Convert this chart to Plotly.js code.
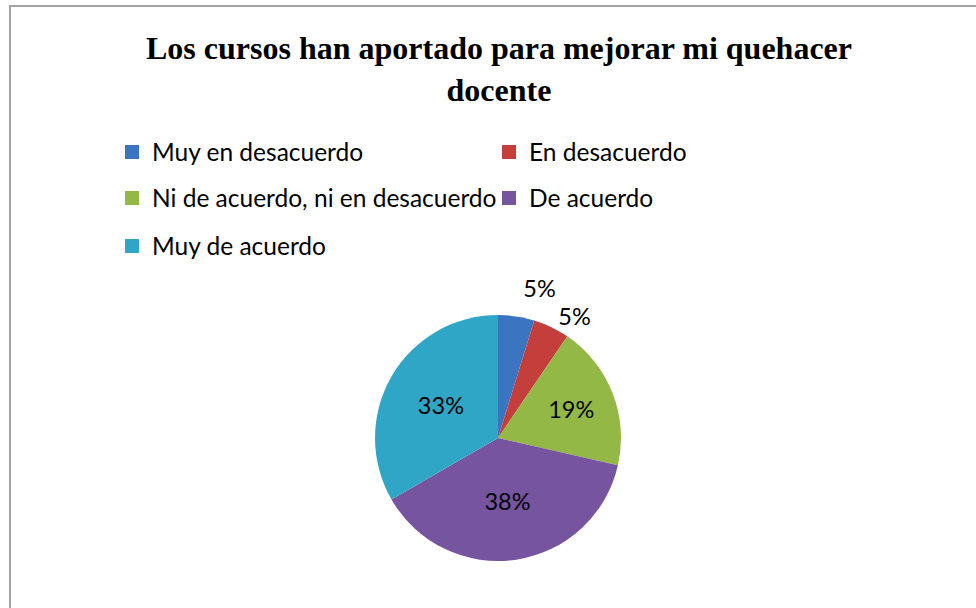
<!DOCTYPE html>
<html>
<head>
<meta charset="utf-8">
<script src="https://cdn.plot.ly/plotly-3.0.1.min.js"></script>
<style>html,body{margin:0;padding:0;background:#fff;overflow:hidden}#chart{width:976px;height:608px}path.textline{display:none}</style>
</head>
<body>
<div id="chart"></div>
<script>
// Data
const categories = ["Muy en desacuerdo", "En desacuerdo", "Ni de acuerdo, ni en desacuerdo", "De acuerdo", "Muy de acuerdo"];
const counts = [1, 1, 4, 8, 7];
const colors = ["#3b75c2", "#c43e3c", "#93b846", "#7654a0", "#30a6c6"];
const textPositions = ["outside", "outside", "inside", "inside", "inside"];
const titleText = "Los cursos han aportado para mejorar mi quehacer<br>docente";
// legend rows (indices into categories)
const legendRows = [[0, 1], [2, 3], [4]];
const legendNames = ["legend", "legend2", "legend3"];

const W = 976, H = 608;
const cx = 498, cy = 438, R = 123;

const traces = [{
  type: "pie",
  labels: categories,
  values: counts,
  sort: false,
  direction: "clockwise",
  rotation: 0,
  marker: {colors: colors, line: {width: 0}},
  textposition: textPositions,
  insidetextorientation: "horizontal",
  texttemplate: "%{percent:.0%}",
  textfont: {family: "Lato, 'Open Sans', sans-serif", size: 23.5, color: "#000"},
  showlegend: false,
  hoverinfo: "label+percent",
  domain: {x: [(cx - R) / W, (cx + R) / W], y: [(H - cy - R) / H, (H - cy + R) / H]}
}];

// legend entries as marker-only traces in three legend rows
legendRows.forEach((row, r) => {
  row.forEach(i => {
    traces.push({
      type: "scatter",
      mode: "markers",
      x: [null], y: [null],
      name: categories[i],
      marker: {symbol: "square", size: 14, color: colors[i]},
      legend: legendNames[r],
      showlegend: true,
      hoverinfo: "skip"
    });
  });
});

const legendBase = {
  orientation: "h",
  xanchor: "left",
  yanchor: "middle",
  x: 112 / W,
  entrywidth: 332,
  entrywidthmode: "pixels",
  font: {family: "Lato, 'Open Sans', sans-serif", size: 24.5, color: "#000"},
  bgcolor: "rgba(0,0,0,0)",
  itemclick: false,
  itemdoubleclick: false
};
const rowY = [152, 198, 246];

const layout = {
  width: W, height: H,
  margin: {l: 0, r: 0, t: 0, b: 0},
  paper_bgcolor: "#fff",
  plot_bgcolor: "rgba(0,0,0,0)",
  title: {
    text: "<b>" + titleText + "</b>",
    x: 499 / W, xanchor: "center",
    y: 1 - 59 / H, yanchor: "middle",
    yref: "paper",
    font: {family: "'Liberation Serif', 'Times New Roman', serif", size: 32, color: "#000"}
  },
  xaxis: {visible: false, domain: [0, 1]},
  yaxis: {visible: false, domain: [0, 1]},
  legend: Object.assign({}, legendBase, {y: 1 - rowY[0] / H}),
  legend2: Object.assign({}, legendBase, {y: 1 - rowY[1] / H}),
  legend3: Object.assign({}, legendBase, {y: 1 - rowY[2] / H}),
  shapes: [{
    type: "rect", xref: "paper", yref: "paper",
    x0: 10 / W, x1: 1.05, y0: -0.05, y1: 1 - 6 / H,
    line: {color: "#a3a3a3", width: 2}, fillcolor: "rgba(0,0,0,0)", layer: "below"
  }],
  showlegend: true
};

Plotly.newPlot("chart", traces, layout, {displayModeBar: false, staticPlot: true});
</script>
</body>
</html>
